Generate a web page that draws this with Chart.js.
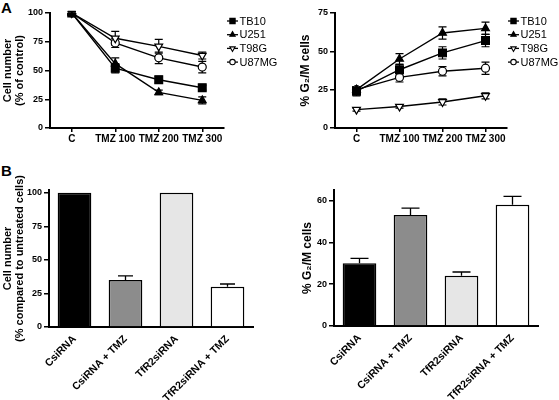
<!DOCTYPE html>
<html><head><meta charset="utf-8">
<script src="https://cdn.jsdelivr.net/npm/chart.js@4"></script>
<style>
body{margin:0;background:#fff;width:559px;height:400px;position:relative;overflow:hidden;font-family:'Liberation Sans',Arial,sans-serif}
.pl{position:absolute;font-weight:bold;font-size:15px;line-height:1}
canvas{position:absolute}
</style></head><body>
<div class="pl" style="left:1px;top:0">A</div>
<div class="pl" style="left:1px;top:163px">B</div>
<canvas id="cA1" width="290" height="160" style="left:0;top:0"></canvas>
<canvas id="cA2" width="279" height="160" style="left:280px;top:0"></canvas>
<canvas id="cB1" width="280" height="235" style="left:0;top:165px"></canvas>
<canvas id="cB2" width="279" height="235" style="left:280px;top:165px"></canvas>
<script>
/* ---- data ---- */
const doses = ['C','TMZ 100','TMZ 200','TMZ 300'];
const cellLines = ['TB10','U251','T98G','U87MG'];

const cellTB10 = [100, 52, 42, 35],  cellTB10Err = [1.5, 4, 3, 2];
const cellU251 = [100, 56, 31, 24],  cellU251Err = [1, 5, 2, 3];
const cellT98G = [100, 78, 71, 63],  cellT98GErr = [1, 6, 6, 3];
const cellU87  = [100, 74, 61, 53],  cellU87Err  = [1, 4, 5, 5];

const g2TB10 = [24, 38, 49, 57],  g2TB10Err = [3, 3.5, 4, 4];
const g2U251 = [25, 45, 62, 65],  g2U251Err = [2, 3.5, 4, 4];
const g2T98G = [12, 14, 17, 21],  g2T98GErr = [1, 1, 2, 2];
const g2U87  = [25, 33, 37, 39],  g2U87Err  = [2, 3, 3, 4];

const groups = ['CsiRNA','CsiRNA + TMZ','TfR2siRNA','TfR2siRNA + TMZ'];
const cellB = [100, 35, 100, 30], cellBErr = [0, 3, 0, 2];
const g2B   = [30, 53, 24, 58],   g2BErr   = [2.3, 3.3, 1.8, 4];

const ticksCell = [0, 25, 50, 75, 100];
const ticksG2A  = [0, 25, 50, 75];
const ticksG2B  = [0, 20, 40, 60];

/* ---- styles ---- */
const markers = [
  {pointStyle:'rect', pointRadius:5.5, pointRotation:0, fill:'#000'},
  {pointStyle:'triangle', pointRadius:4.5, pointRotation:0, fill:'#000'},
  {pointStyle:'triangle', pointRadius:4.5, pointRotation:180, fill:'#fff'},
  {pointStyle:'circle', pointRadius:4, pointRotation:0, fill:'#fff'}
];
const barColors = ['#000000','#8c8c8c','#e6e6e6','#ffffff'];

/* ---- plugins ---- */
function drawErr(chart, o){
  const {ctx} = chart, y = chart.scales.y;
  chart.data.datasets.forEach((ds,i)=>{
    if(!ds.err) return;
    chart.getDatasetMeta(i).data.forEach((el,j)=>{
      const e = ds.err[j]; if(!e) return;
      const v = ds.data[j];
      const yt = y.getPixelForValue(v+e), yb = o.up ? el.y : y.getPixelForValue(v-e);
      ctx.save(); ctx.strokeStyle='#000'; ctx.lineWidth=o.width||1.3;
      ctx.beginPath();
      ctx.moveTo(el.x,yt); ctx.lineTo(el.x,yb);
      ctx.moveTo(el.x-o.cap,yt); ctx.lineTo(el.x+o.cap,yt);
      if(!o.up){ ctx.moveTo(el.x-o.cap,yb); ctx.lineTo(el.x+o.cap,yb); }
      ctx.stroke(); ctx.restore();
    });
  });
}
const errBars = {
  id:'errBars',
  beforeDatasetsDraw(chart,args,o){ if(!o.up) drawErr(chart,o); },
  afterDatasetsDraw(chart,args,o){ if(o.up) drawErr(chart,o); }
};
const sideLegend = {
  id:'sideLegend',
  afterDraw(chart,args,o){
    const ctx = chart.ctx;
    chart.data.datasets.forEach((ds,i)=>{
      const y = o.y + i*o.dy;
      ctx.save();
      ctx.strokeStyle='#000'; ctx.lineWidth=1.3;
      ctx.beginPath(); ctx.moveTo(o.x,y); ctx.lineTo(o.x+o.len,y); ctx.stroke();
      ctx.fillStyle = ds.pointBackgroundColor; ctx.lineWidth = 1.1;
      Chart.helpers.drawPoint(ctx,{pointStyle:ds.pointStyle,radius:ds.pointRadius*0.68,rotation:ds.pointRotation,borderWidth:1.1},o.x+o.len/2,y);
      ctx.fillStyle='#000'; ctx.font=o.font; ctx.textBaseline='middle'; ctx.textAlign='left';
      ctx.fillText(ds.label, o.x+o.len+1.5, y+0.5);
      ctx.restore();
    });
  }
};

/* ---- shared axis pieces ---- */
const axisBorder = {color:'#000', width:2};
const tickFont = {family:"'Liberation Sans',Arial,sans-serif", weight:'bold', size:9};
function yAxis(max, ticks, title, titleFont, titlePad, width){
  return {min:0, max,
    afterBuildTicks:s=>{ s.ticks = ticks.map(v=>({value:v})); },
    grid:{drawOnChartArea:false, color:'#000', lineWidth:1.5, tickLength:5},
    border:axisBorder,
    ticks:{color:'#000', font:tickFont, padding:2},
    title:{display:true, text:title, color:'#000', font:titleFont, padding:{top:titlePad,bottom:0}},
    afterFit:s=>{ s.width = width; }};
}

function lineChart(id, series, errs, yMax, yTicks, yTitle, titleFont, titlePad, yW, pad, leg){
  new Chart(document.getElementById(id), {
    type:'line',
    data:{labels:doses, datasets:series.map((d,i)=>({
      label:cellLines[i], data:d, err:errs[i],
      borderColor:'#000', borderWidth:1.4, tension:0,
      pointStyle:markers[i].pointStyle, pointRadius:markers[i].pointRadius, pointRotation:markers[i].pointRotation,
      pointBackgroundColor:markers[i].fill, pointBorderColor:'#000', pointBorderWidth:1.2}))},
    options:{responsive:false, animation:false,
      layout:{padding:pad},
      plugins:{legend:{display:false}, tooltip:{enabled:false},
        errBars:{cap:4, width:1.2}, sideLegend:leg},
      scales:{
        x:{offset:true, grid:{drawOnChartArea:false, color:'#000', lineWidth:1.5, tickLength:4},
          border:axisBorder,
          ticks:{color:'#000', font:{...tickFont, size:10}, padding:1, maxRotation:0, autoSkip:false},
          afterFit:s=>{ s.height = 32; }},
        y:yAxis(yMax, yTicks, yTitle, titleFont, titlePad, yW)}},
    plugins:[errBars, sideLegend]});
}

function barChart(id, vals, errs, yMax, yTicks, yTitle, titleFont, titlePad, yW, pad, cap){
  new Chart(document.getElementById(id), {
    type:'bar',
    data:{labels:groups, datasets:[{data:vals, err:errs, backgroundColor:barColors,
      borderColor:'#000', borderWidth:1.5, barPercentage:0.66, categoryPercentage:1}]},
    options:{responsive:false, animation:false,
      layout:{padding:pad},
      plugins:{legend:{display:false}, tooltip:{enabled:false}, errBars:{up:true, cap, width:1.3}},
      scales:{
        x:{grid:{display:false, drawTicks:false}, border:axisBorder,
          ticks:{color:'#000', font:{...tickFont, size:10.5}, minRotation:45, maxRotation:45, padding:6, autoSkip:false},
          afterFit:s=>{ s.height = pad.h; }},
        y:yAxis(yMax, yTicks, yTitle, titleFont, titlePad, yW)}},
    plugins:[errBars]});
}

const titleFontA = {family:"'Liberation Sans',Arial,sans-serif", weight:'bold', size:11, lineHeight:1.1};
const titleFontG = {family:"'Liberation Sans',Arial,sans-serif", weight:'bold', size:12, lineHeight:1.2};
const legFont = "11px 'Liberation Sans', Arial, sans-serif";

lineChart('cA1', [cellTB10,cellU251,cellT98G,cellU87], [cellTB10Err,cellU251Err,cellT98GErr,cellU87Err],
  100, ticksCell, ['Cell number','(% of control)'], titleFontA, 2, 50,
  {top:13, right:66, left:0, bottom:0},
  {x:227, y:21, dy:13.7, len:11, font:legFont});

lineChart('cA2', [g2TB10,g2U251,g2T98G,g2U87], [g2TB10Err,g2U251Err,g2T98GErr,g2U87Err],
  75, ticksG2A, '% G₂/M cells', titleFontG, 18, 55,
  {top:13, right:52, left:0, bottom:0},
  {x:228, y:21, dy:13.7, len:11, font:legFont});

barChart('cB1', cellB, cellBErr, 102, ticksCell,
  ['Cell number','(% compared to untreated cells)'], titleFontA, 2, 49,
  {top:25, right:27, left:0, bottom:0, h:73}, 7.5);

barChart('cB2', g2B, g2BErr, 65, ticksG2B, '% G₂/M cells', titleFontG, 20, 54,
  {top:25, right:21, left:0, bottom:0, h:74}, 9);
</script>
</body></html>
